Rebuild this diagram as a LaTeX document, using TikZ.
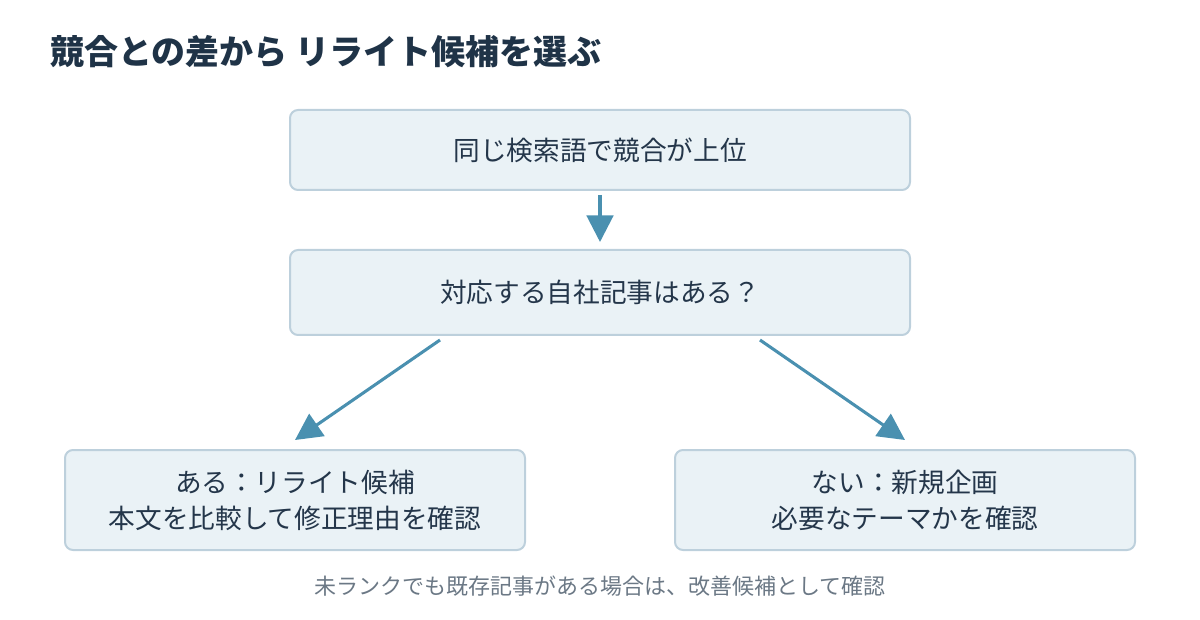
\documentclass[tikz,border=0pt]{standalone}
\usepackage{fontspec}
\setmainfont{Noto Sans CJK JP}
\usetikzlibrary{arrows.meta,positioning}
\definecolor{boxfill}{HTML}{EAF2F6}
\definecolor{boxline}{HTML}{BDD0DC}
\definecolor{arrowc}{HTML}{4A90B0}
\definecolor{titlec}{HTML}{1F3347}
\definecolor{textc}{HTML}{24364A}
\definecolor{notec}{HTML}{6B7885}
\begin{document}
\begin{tikzpicture}[x=0.75pt,y=-0.75pt,
  box/.style={draw=boxline,fill=boxfill,line width=1.5pt,rounded corners=6pt,
    text=textc,font=\fontsize{20}{27}\selectfont,align=center,inner sep=0pt},
  flow/.style={draw=arrowc,line width=2.3pt,-{Triangle[length=20pt,width=20pt]}}]
\useasboundingbox (0,0) rectangle (1200,620);
% title
\node[anchor=west,inner sep=0pt,text=titlec,font=\fontsize{25.5}{30}\selectfont\bfseries] (title) at (50,52) {競合との差から リライト候補を選ぶ};
% boxes
\node[box,minimum width=465pt,minimum height=60pt] (q) at (600,150) {同じ検索語で競合が上位};
\node[box,minimum width=465pt,minimum height=63.75pt] (ask) at (600,292.5) {対応する自社記事はある？};
\node[box,minimum width=345pt,minimum height=75pt] (yes) at (295,500) {ある：リライト候補\\本文を比較して修正理由を確認};
\node[box,minimum width=345pt,minimum height=75pt] (no) at (905,500) {ない：新規企画\\必要なテーマかを確認};
% arrows
\coordinate (a1) at (600,195);
\coordinate (a2) at (600,242);
\coordinate (l1) at (440,340);
\coordinate (l2) at (295,440);
\coordinate (r1) at (760,340);
\coordinate (r2) at (905,440);
\draw[flow] (a1) -- (a2);
\draw[flow] (l1) -- (l2);
\draw[flow] (r1) -- (r2);
% note
\node[text=notec,font=\fontsize{16.5}{20}\selectfont] (note) at (600,586) {未ランクでも既存記事がある場合は、改善候補として確認};
\end{tikzpicture}
\end{document}
